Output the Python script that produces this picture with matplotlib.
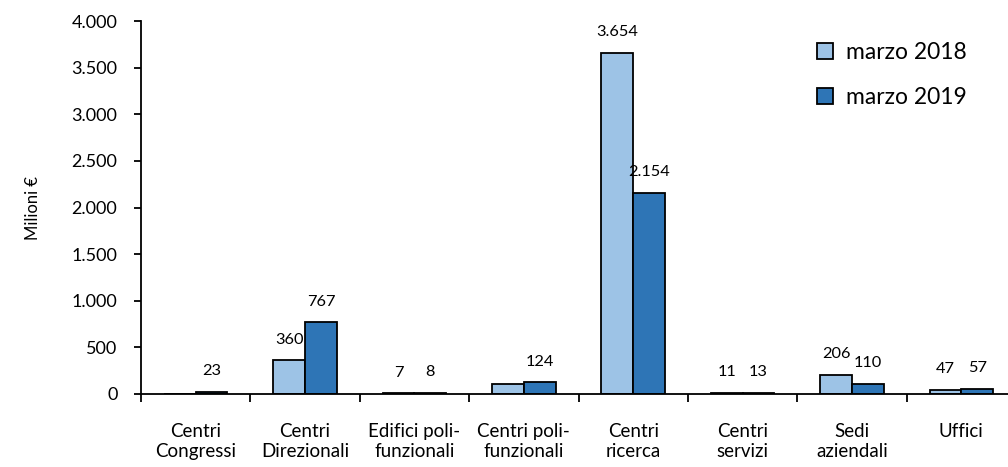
import numpy as np
import matplotlib
matplotlib.use("Agg")
from matplotlib import pyplot as plt
from matplotlib.ticker import FuncFormatter, FixedLocator

plt.rcParams['font.family'] = ['Lato', 'DejaVu Sans']

categorie = ["Centri\nCongressi", "Centri\nDirezionali", "Edifici poli-\nfunzionali",
             "Centri poli-\nfunzionali", "Centri\nricerca", "Centri\nservizi",
             "Sedi\naziendali", "Uffici"]
marzo_2018 = [4, 360, 7, 110, 3654, 11, 206, 47]
marzo_2019 = [23, 767, 8, 124, 2154, 13, 110, 57]
# etichette visibili (None = nessuna etichetta)
etich_2018 = [None, 360, 7, None, 3654, 11, 206, 47]
etich_2019 = [23, 767, 8, 124, 2154, 13, 110, 57]

col_2018 = '#9DC3E6'
col_2019 = '#2E75B6'


def migliaia(v, pos=None):
    return f"{int(v):,}".replace(",", ".")


fig = plt.figure(figsize=(10.08, 4.67), dpi=100)
ax = fig.add_axes([141/1008, 73/467, 875/1008, 373/467])

x = np.arange(len(categorie))
w = 0.29
ax.bar(x - w/2, marzo_2018, w, color=col_2018, edgecolor='black', linewidth=1.3, label='marzo 2018')
ax.bar(x + w/2, marzo_2019, w, color=col_2019, edgecolor='black', linewidth=1.3, label='marzo 2019')

for xs, vals, etich in [(x - w/2, marzo_2018, etich_2018), (x + w/2, marzo_2019, etich_2019)]:
    for xi, v, e in zip(xs, vals, etich):
        if e is None:
            continue
        ax.annotate(migliaia(e), (xi, v), xytext=(0, 15), textcoords='offset points',
                    ha='center', va='center', fontsize=11.8)

ax.set_xlim(-0.5, len(categorie) - 0.5)
ax.set_ylim(0, 4000)
ax.set_yticks(np.arange(0, 4001, 500))
ax.yaxis.set_major_formatter(FuncFormatter(migliaia))
ax.tick_params(axis='y', direction='out', length=5, width=1.3, labelsize=13, pad=12)

# tacche tra le categorie, etichette al centro
ax.xaxis.set_major_locator(FixedLocator(np.arange(-0.5, len(categorie), 1.0)))
ax.xaxis.set_minor_locator(FixedLocator(x))
ax.set_xticklabels([])
ax.set_xticklabels(categorie, minor=True, fontsize=13.5, linespacing=1.2)
ax.tick_params(axis='x', which='major', direction='out', length=6, width=1.3)
ax.tick_params(axis='x', which='minor', length=0, pad=21)

for s in ['top', 'right']:
    ax.spines[s].set_visible(False)
for s in ['left', 'bottom']:
    ax.spines[s].set_linewidth(1.3)

fig.text(33/1008, 1 - 208/467, 'Milioni €', rotation=90, ha='center', va='center', fontsize=12)

ax.legend(loc='upper left', bbox_to_anchor=(796/1008, 1 - 21/467), bbox_transform=fig.transFigure,
          frameon=False, fontsize=16.5, handlelength=0.7, handleheight=0.7,
          handletextpad=0.6, labelspacing=1.05)

fig.savefig('out.png', dpi=100)
